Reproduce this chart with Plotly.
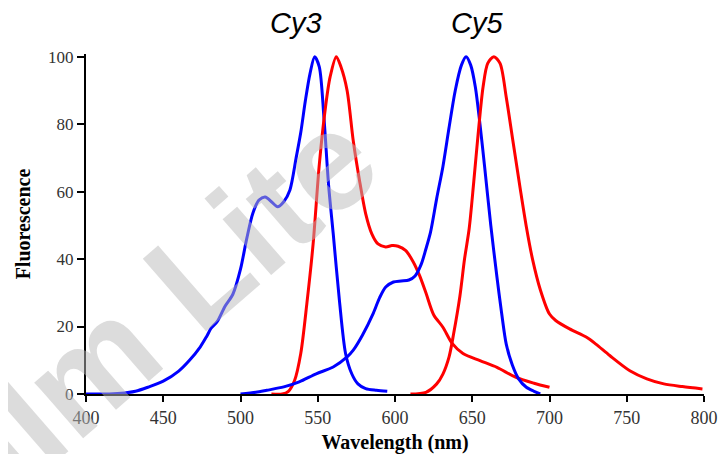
import plotly.graph_objects as go

# Cy3 excitation (blue)
cy3_ex_wl = [400, 415, 425, 432, 440, 450, 460, 467, 474, 478, 481, 485, 490, 495, 500, 504, 508, 512, 516, 520, 524, 528, 532, 536, 539, 542, 545, 548, 551, 554, 557, 560, 564, 568, 572, 576, 581, 588, 595]
cy3_ex_val = [0, 0, 0.3, 0.8, 2, 3.8, 6.8, 10, 14, 17, 19.5, 21.5, 26, 29.5, 37, 46, 53.6, 57.5, 58.4, 57, 55.5, 57, 60.5, 70, 77.5, 87, 95, 100, 97, 82, 62, 47.6, 27.8, 12, 6, 3, 1.6, 1.1, 0.8]

# Cy3 emission (red)
cy3_em_wl = [520, 527, 531, 535, 539, 543, 547, 551, 555, 558, 562, 565, 569, 573, 577, 581, 585, 589, 594, 598, 602, 607, 612, 616, 620, 625, 631, 637, 644, 655, 666, 678, 690, 700]
cy3_em_val = [0, 0, 0.8, 4, 12, 27, 44.5, 68, 85, 94, 100, 97, 90, 75, 63.4, 53.5, 47.5, 44.5, 43.6, 44, 43.8, 42.5, 39, 35, 30, 23.5, 19.8, 15, 12, 9.9, 7.9, 5, 3.2, 2]

# Cy5 excitation (blue)
cy5_ex_wl = [500, 510, 517, 528, 538, 549, 560, 569, 573, 579, 586, 590, 594, 599, 604, 609, 613, 617, 620, 623, 627, 631, 635, 639, 643, 646, 649, 652, 655, 658, 662, 666, 669, 672, 676, 680, 685, 690, 694]
cy5_ex_val = [0, 0.5, 1.1, 2.1, 3.6, 6, 8, 11, 13, 17.5, 24, 28.5, 31.7, 33.2, 33.5, 33.8, 35, 38.5, 43, 48, 58, 67.4, 79, 90, 97.5, 100, 97.5, 91, 80, 67.4, 50, 34.6, 24, 14.8, 8.5, 4.5, 2, 0.8, 0]

# Cy5 emission (red)
cy5_em_wl = [610, 620, 627, 631, 635, 638, 642, 645, 648, 651, 654, 657, 660, 664, 668, 672, 676, 681, 685, 689, 694, 700, 704, 713, 724, 730, 739, 752, 763, 774, 786, 799]
cy5_em_val = [0, 0.5, 3, 5.9, 11, 18, 29, 40, 49, 63, 78, 91, 98, 100, 98, 88, 76, 61, 49.6, 40, 31, 23.7, 21.8, 19.3, 16.8, 14.8, 11.4, 6.9, 4.5, 3, 2.2, 1.5]

x_ticks = [400, 450, 500, 550, 600, 650, 700, 750, 800]
y_ticks = [0, 20, 40, 60, 80, 100]

dye_labels = ["Cy3", "Cy5"]
dye_label_wl = [536, 653]

BLUE = "#0000FF"
RED = "#FF0000"

fig = go.Figure()
for xs, ys, col in [(cy3_ex_wl, cy3_ex_val, BLUE), (cy3_em_wl, cy3_em_val, RED),
                    (cy5_ex_wl, cy5_ex_val, BLUE), (cy5_em_wl, cy5_em_val, RED)]:
    fig.add_trace(go.Scatter(x=xs, y=ys, mode="lines",
                             line=dict(color=col, width=3, shape="spline", smoothing=0.8),
                             showlegend=False, hoverinfo="skip"))

serif = "Liberation Serif, Times New Roman, serif"

# page body has an 8px margin, so the figure is 8px smaller than the window
fig.update_layout(
    width=718, height=446,
    margin=dict(l=78, r=22, t=46, b=60, autoexpand=False),
    paper_bgcolor="white", plot_bgcolor="white",
    showlegend=False,
    xaxis=dict(range=[400, 800], tickvals=x_ticks, ticktext=[str(v) for v in x_ticks],
               automargin=False,
               showgrid=False, zeroline=False, showline=True, linecolor="black", linewidth=2,
               ticks="outside", ticklen=6, tickwidth=2, tickcolor="black",
               tickfont=dict(family=serif, size=18, color="#333333"),
               title=dict(text="<b>Wavelength (nm)</b>", font=dict(family=serif, size=20, color="black"), standoff=12)),
    yaxis=dict(range=[0, 100.8], tickvals=y_ticks, ticktext=[str(v) for v in y_ticks],
               automargin=False,
               showgrid=False, zeroline=False, showline=True, linecolor="black", linewidth=2,
               ticks="outside", ticklen=7, tickwidth=2, tickcolor="black",
               tickfont=dict(family=serif, size=17, color="#333333"),
               title=dict(text="<b>Fluorescence</b>", font=dict(family=serif, size=20, color="black"), standoff=12)),
)

for lab, wl in zip(dye_labels, dye_label_wl):
    fig.add_annotation(x=wl, xref="x", y=1.09, yref="paper", text=f"<i>{lab}</i>",
                       showarrow=False, xanchor="center", yanchor="middle",
                       font=dict(family="Liberation Sans, Arial, sans-serif", size=29, color="black"))

# semi-transparent watermark
fig.add_annotation(x=0.084, y=0.199, xref="paper", yref="paper", text="<b>Film Lite</b>",
                   showarrow=False, xanchor="center", yanchor="middle", textangle=-41,
                   font=dict(family="Liberation Sans, Arial, sans-serif", size=140,
                             color="rgba(185,185,185,0.5)"))

fig.write_html("out.html")
